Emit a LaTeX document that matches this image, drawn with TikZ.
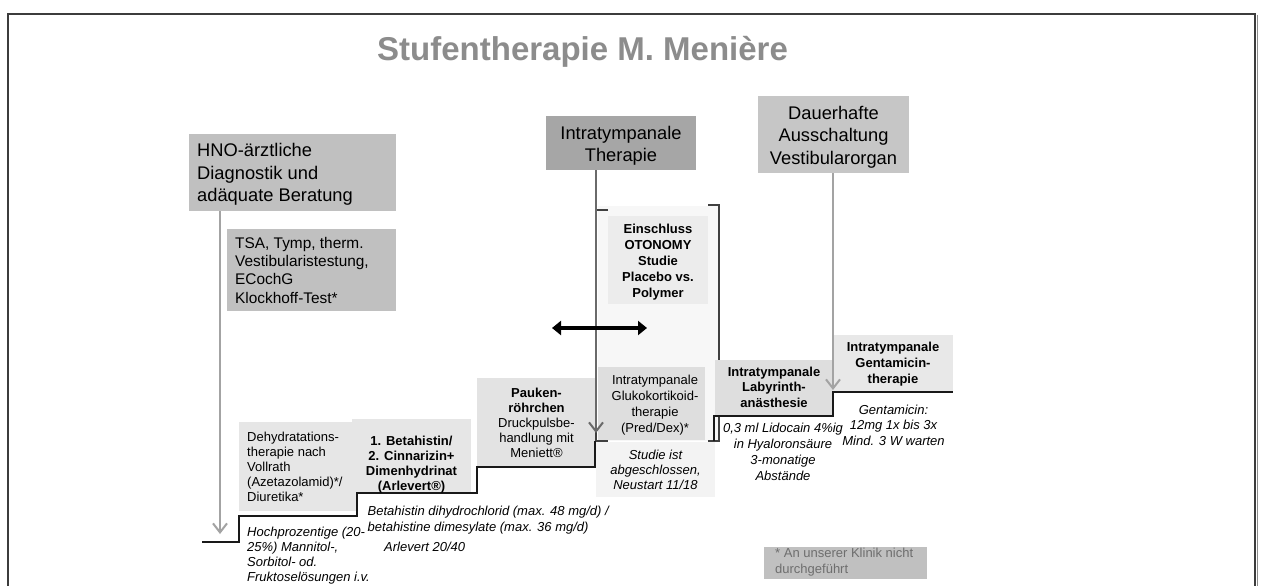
\documentclass[tikz,border=0pt]{standalone}
\usepackage{fontspec}
\setmainfont{Liberation Sans}
\usetikzlibrary{arrows.meta}

\definecolor{frameC}{HTML}{3C3C3C}
\definecolor{titleC}{HTML}{8C8C8C}
\definecolor{headA}{HTML}{C0C0C0}
\definecolor{headB}{HTML}{A6A6A6}
\definecolor{headC}{HTML}{C6C6C6}
\definecolor{stepA}{HTML}{E6E6E6}
\definecolor{stepB}{HTML}{E3E3E3}
\definecolor{stepC}{HTML}{DEDEDE}
\definecolor{stepD}{HTML}{E8E8E8}
\definecolor{studyA}{HTML}{ECECEC}
\definecolor{studyB}{HTML}{F3F3F3}
\definecolor{panelC}{HTML}{F7F7F7}
\definecolor{arrowC}{HTML}{A3A3A3}
\definecolor{arrowD}{HTML}{6A6A6A}
\definecolor{bracketC}{HTML}{404040}
\definecolor{noteC}{HTML}{6E6E6E}

\begin{document}
\begin{tikzpicture}[x=1pt, y=-1pt,
  box/.style={fill=#1, draw=none, inner sep=0pt, outer sep=0pt, anchor=north west},
  big/.style={inner sep=0pt, font=\fontsize{18.3}{22.5}\selectfont},
  mid/.style={inner sep=0pt, font=\fontsize{15.4}{18.3}\selectfont},
  sm/.style n args={2}{inner sep=0pt, font=\fontsize{13}{#1}\selectfont#2},
  stair/.style={line width=2.5pt, draw=black!90, line join=miter},
  bracket/.style={line width=1.5pt, draw=bracketC},
  downarrow/.style={line width=2pt, draw=#1, -{Straight Barb[length=9pt,width=14pt]}},
  dblarrow/.style={line width=4pt, draw=black,
    {Triangle[length=9pt,width=14pt]}-{Triangle[length=9pt,width=14pt]}}
]
\useasboundingbox (0,0) rectangle (1261,586);
\fill[white] (0,0) rectangle (1261,586);

% outer frame
\draw[frameC, line width=1.3pt] (8,600) -- (8,14) -- (1255,14) -- (1255,600);
\draw[black!45, line width=1pt] (1257.5,15) -- (1257.5,600);

% title
\node[inner sep=0pt, anchor=base west, text=titleC,
      font=\fontsize{33}{38}\selectfont\bfseries] (title) at (377,60)
  {Stufentherapie M. Menière};

% header boxes
\node[box=headA, minimum width=207pt, minimum height=77pt] (hno) at (189,134) {};
\node[box=headA, minimum width=169pt, minimum height=82pt] (tsa) at (227,229) {};
\node[box=headB, minimum width=150pt, minimum height=54pt] (itt) at (546,116) {};
\node[box=headC, minimum width=151pt, minimum height=77pt] (dauer) at (758,96) {};

\node[big, anchor=north west, align=left] (hnoT) at (197,141)
  {\strut HNO-ärztliche\\Diagnostik und\\adäquate Beratung};
\node[mid, anchor=north west, align=left] (tsaT) at (235,235.2)
  {\strut TSA, Tymp, therm.\\Vestibularistestung,\\ECochG\\Klockhoff-Test*};
\node[big, anchor=north, align=center] (ittT) at (621,123.5)
  {\strut Intratympanale\\Therapie};
\node[big, anchor=north, align=center] (dauerT) at (833.5,103.5)
  {\strut Dauerhafte\\Ausschaltung\\Vestibularorgan};

% study panel inside the bracket
\node[box=panelC, minimum width=120pt, minimum height=235pt] (panel) at (598,206) {};
\node[box=studyA, minimum width=100pt, minimum height=88pt] (ein) at (608,216) {};
\node[box=stepC, minimum width=107pt, minimum height=73pt] (gluko) at (598,367) {};
\node[box=studyB, minimum width=119pt, minimum height=55pt] (studie) at (596,442) {};

% step boxes
\node[box=stepA, minimum width=118pt, minimum height=89pt] (dehyd) at (239,422) {};
\node[box=stepA, minimum width=119pt, minimum height=73pt] (beta) at (352,419) {};
\node[box=stepB, minimum width=119pt, minimum height=89pt] (pauken) at (477,378) {};
\node[box=stepD, minimum width=120pt, minimum height=57pt] (genta) at (833,335) {};
\node[box=headA, minimum width=163pt, minimum height=32pt] (foot) at (764,547) {};

% bracket around the study
\draw[bracket] (608,210) -- (596,210) -- (596,441) -- (608,441);
\draw[bracket] (708,205) -- (719,205) -- (719,441) -- (708,441);
\node[box=stepC, minimum width=118pt, minimum height=56pt] (laby) at (715,360) {};

% staircase
\draw[stair] (202,542) -- (239,542) -- (239,516) -- (357,516) -- (357,493)
  -- (477,493) -- (477,467) -- (595,467) -- (595,441);
\draw[stair] (714,441) -- (714,416) -- (833,416) -- (833,392) -- (953,392);

% arrows from the header boxes
\coordinate (hnoTip) at (220,534);
\coordinate (ittTip) at (596,433);
\coordinate (dauerTip) at (833,390);
\draw[downarrow=arrowC] (hno.south -| hnoTip) -- (hnoTip);
\draw[downarrow=arrowD] (itt.south -| ittTip) -- (ittTip);
\draw[downarrow=arrowC] (dauer.south -| dauerTip) -- (dauerTip);

% switching arrow
\coordinate (swL) at (552,328);
\coordinate (swR) at (647,328);
\draw[dblarrow] (swL) -- (swR);

% texts of the steps
\node[sm={15}{}, anchor=north west, align=left] (dehydT) at (247,430.5)
  {\strut Dehydratations-\\therapie nach\\Vollrath\\(Azetazolamid)*/\\Diuretika*};
\node[sm={15}{\bfseries}, anchor=north, align=center] (betaT) at (411.5,434.5)
  {\strut 1. Betahistin/\\2. Cinnarizin+\\Dimenhydrinat\\(Arlevert®)};
\node[sm={15}{}, anchor=north, align=center] (paukenT) at (536.5,386.5)
  {\strut\textbf{Pauken-}\\\textbf{röhrchen}\\Druckpulsbe-\\handlung mit\\Meniett®};
\node[sm={16}{\bfseries}, anchor=north, align=center] (einT) at (658,221.8)
  {\strut Einschluss\\OTONOMY\\Studie\\Placebo vs.\\Polymer};
\node[sm={16}{}, anchor=north, align=center] (glukoT) at (655,372.8)
  {\strut Intratympanale\\Glukokortikoid-\\therapie\\(Pred/Dex)*};
\node[sm={15}{\itshape}, anchor=north, align=center] (studieT) at (655.5,448.5)
  {\strut Studie ist\\abgeschlossen,\\Neustart 11/18};
\node[sm={15.5}{\bfseries}, anchor=north, align=center] (labyT) at (774,365.2)
  {\strut Intratympanale\\Labyrinth-\\anästhesie};
\node[sm={16}{\bfseries}, anchor=north, align=center] (gentaT) at (893,339.8)
  {\strut Intratympanale\\Gentamicin-\\therapie};

% notes below the steps
\node[sm={15}{\itshape}, anchor=north west, align=left] (hochT) at (247,525.5)
  {\strut Hochprozentige (20-\\25\%) Mannitol-,\\Sorbitol- od.\\Fruktoselösungen i.v.};
\node[sm={16}{\itshape}, anchor=north west, align=left] (betaN) at (367.5,503.8)
  {\strut Betahistin dihydrochlorid (max. 48 mg/d) /\\betahistine dimesylate (max. 36 mg/d)};
\node[sm={15}{\itshape}, anchor=base west] (arlN) at (384,551) {Arlevert 20/40};
\node[sm={16}{\itshape}, anchor=north, align=center] (lidoN) at (783,420.8)
  {\strut 0,3 ml Lidocain 4\%ig\\in Hyaloronsäure\\3-monatige\\Abstände};
\node[sm={15.5}{\itshape}, anchor=north, align=center] (gentaN) at (893.5,403.2)
  {\strut Gentamicin:\\12mg 1x bis 3x\\Mind. 3 W warten};

% footnote
\node[sm={16}{}, anchor=north west, align=left, text=noteC] (footT) at (775,545.8)
  {\strut * An unserer Klinik nicht\\durchgeführt};
\end{tikzpicture}
\end{document}
